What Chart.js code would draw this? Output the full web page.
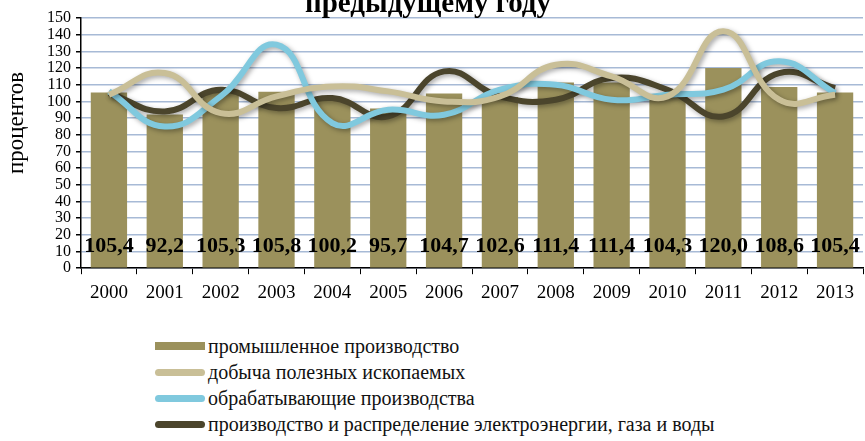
<!DOCTYPE html>
<html>
<head>
<meta charset="utf-8">
<script src="https://cdn.jsdelivr.net/npm/chart.js@4"></script>
<style>
  html, body { margin:0; padding:0; background:#fff; }
  #wrap { position:relative; width:865px; height:441px; overflow:hidden; font-family:"Liberation Serif","Times New Roman",serif; }
  #box { position:absolute; left:0; top:0; width:865px; height:311px; }
  #legend { position:absolute; left:155px; top:333px; }
  #legend .entry { display:flex; align-items:center; height:26px; font-size:20px; color:#111; }
  #legend .sw { width:50px; margin-right:3px; }
</style>
</head>
<body>
<div id="wrap">
  <div id="box"><canvas id="chart"></canvas></div>
  <div id="legend"></div>
</div>
<script>
const $ = (sel, root=document) => root.querySelector(sel);

const years = ['2000','2001','2002','2003','2004','2005','2006','2007','2008','2009','2010','2011','2012','2013'];
const industry  = [105.4, 92.2, 105.3, 105.8, 100.2, 95.7, 104.7, 102.6, 111.4, 111.4, 104.3, 120.0, 108.6, 105.4];
const mining    = [104, 117, 93, 103, 109, 106, 100, 103, 122, 115, 103, 142, 101, 104];
const manufact  = [106, 85, 103, 134, 87, 95, 92, 107, 110, 101, 104, 107, 124, 105];
const energy    = [105, 94, 107, 96, 102, 91, 118, 103, 101, 114, 107, 91, 117, 108];
const yMin = 0, yMax = 150, yStep = 10;

const SERIES = [
  { label:'промышленное производство', color:'#9b915c', kind:'bar' },
  { label:'добыча полезных ископаемых', color:'#c9bf97', kind:'line' },
  { label:'обрабатывающие производства', color:'#80c9de', kind:'line' },
  { label:'производство и распределение электроэнергии, газа и воды', color:'#4b452c', kind:'line' },
];

const fmt = v => v.toFixed(1).replace('.', ',');

// подписи столбцов внизу, заголовок и подпись оси
const extras = {
  id:'extras',
  beforeDatasetDraw(chart, args){
    const ds = chart.data.datasets[args.index];
    if (ds.type === 'line'){
      const ctx = chart.ctx;
      ctx.save();
      ctx.shadowColor = 'rgba(0,0,0,0.35)';
      ctx.shadowBlur = 5;
      ctx.shadowOffsetX = 2;
      ctx.shadowOffsetY = 2;
    }
  },
  afterDatasetDraw(chart, args){
    const ds = chart.data.datasets[args.index];
    if (ds.type === 'line') chart.ctx.restore();
  },
  afterDraw(chart){
    const ctx = chart.ctx;
    const x = chart.scales.x, y = chart.scales.y;
    ctx.save();
    ctx.fillStyle = '#000';
    ctx.font = 'bold 22px "Liberation Serif"';
    ctx.textAlign = 'center';
    ctx.textBaseline = 'middle';
    industry.forEach((v,i)=>{
      ctx.fillText(fmt(v), x.getPixelForValue(i), y.getPixelForValue(13));
    });
    ctx.font = 'bold 29px "Liberation Serif"';
    ctx.textBaseline = 'alphabetic';
    ctx.fillText('предыдущему году', 428, 12);
    ctx.font = '23px "Liberation Serif"';
    ctx.translate(17, 123);
    ctx.rotate(-Math.PI/2);
    ctx.textBaseline = 'middle';
    ctx.fillText('процентов', 0, 0);
    ctx.restore();
  }
};

function setupChart(){
  const lineDs = (data, s) => ({
    type:'line', label:s.label, data, borderColor:s.color, backgroundColor:s.color,
    borderWidth:6, tension:0.45, pointRadius:0, fill:false, order:1,
  });
  new Chart($('#chart'), {
    type:'bar',
    data:{
      labels: years,
      datasets:[
        { type:'bar', label:SERIES[0].label, data:industry, backgroundColor:SERIES[0].color,
          barPercentage:0.65, categoryPercentage:1, order:2 },
        lineDs(mining, SERIES[1]),
        lineDs(manufact, SERIES[2]),
        lineDs(energy, SERIES[3]),
      ]
    },
    options:{
      responsive:true, maintainAspectRatio:false, animation:false,
      layout:{ padding:{ left:42, right:2, top:18, bottom:0 } },
      plugins:{ legend:{ display:false }, tooltip:{ enabled:false } },
      scales:{
        x:{
          offset:true,
          grid:{ offset:true, drawOnChartArea:false, drawTicks:true, tickLength:6, color:'#000' },
          border:{ color:'#000', width:1.5 },
          ticks:{ color:'#000', font:{ family:'Liberation Serif', size:19 }, padding:7 },
        },
        y:{
          min:yMin, max:yMax,
          grid:{ color:'#a7bad6', lineWidth:1.5, tickLength:5, tickColor:'#000' },
          border:{ color:'#000', width:1.5 },
          ticks:{ stepSize:yStep, autoSkip:false, color:'#000', font:{ family:'Liberation Serif', size:16 }, padding:5 },
        }
      }
    },
    plugins:[extras]
  });
}

function buildLegend(){
  const legend = $('#legend');
  SERIES.forEach(s=>{
    const el = document.createElement('div');
    el.className = 'entry';
    const sw = s.kind === 'bar'
      ? `<span class="sw" style="height:8px;background:${s.color}"></span>`
      : `<span class="sw" style="height:7px;border-radius:4px;background:${s.color}"></span>`;
    el.innerHTML = sw + `<span>${s.label}</span>`;
    legend.appendChild(el);
  });
}

setupChart();
buildLegend();
</script>
</body>
</html>
